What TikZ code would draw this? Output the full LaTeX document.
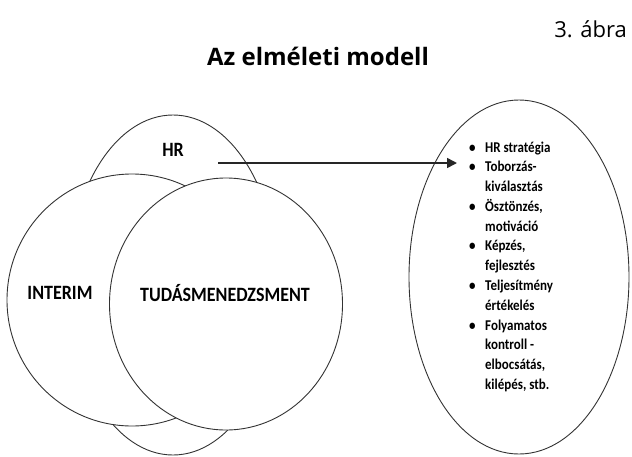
\documentclass[tikz,border=0pt]{standalone}
\usepackage{fontspec}
\setmainfont{Carlito}
\newfontfamily\titlefont{Open Sans}
\usepackage{tikz}
\usetikzlibrary{shapes.geometric,arrows.meta}
\newcommand{\tallword}[1]{\scalebox{1}[1.13]{#1}}

\begin{document}
\begin{tikzpicture}[
            x=1pt, y=-1pt,
            every node/.style={inner sep=0pt},
            venn/.style={draw=black!80, line width=0.9pt, ellipse, fill=white},
            bigword/.style={font=\fontsize{18}{18}\selectfont\bfseries},
            arrow/.style={draw=black!85, line width=1.6pt, -{Triangle[length=10pt, width=10pt]}}
        ]
        \useasboundingbox (0,0) rectangle (632,456);
        \node[anchor=base east, font=\titlefont\fontsize{22}{22}\selectfont] (fig) at (627,37) {3. ábra};
        \node[anchor=base, font=\titlefont\fontsize{24}{24}\selectfont\bfseries] (title) at (318,65) {Az elméleti modell};
        % the three overlapping fields
        \node[venn, minimum width=210pt, minimum height=340pt] (HR) at (173,285) {};
        \node[venn, minimum width=250pt, minimum height=252pt] (IN) at (132,300) {};
        \node[venn, minimum width=233pt, minimum height=252pt] (TM) at (226,304) {};
        \node[bigword] (hrtext) at (173,150) {\tallword{HR}};
        \node[bigword] (intext) at (60,293) {\tallword{INTERIM}};
        \node[bigword] (tmtext) at (225,293) {\tallword{TUDÁSMENEDZSMENT}};
        % the tasks of HR
        \node[venn, minimum width=220pt, minimum height=354pt] (tasks) at (519,277) {};
        \node[anchor=north west, align=left, font=\fontsize{13}{17.2}\selectfont\bfseries] (list) at (469,138) {%
            \scalebox{1}[1.15]{\begin{tabular}{@{}p{16pt}@{}l@{}}
                \textbullet & HR stratégia \\
                \textbullet & Toborzás- \\
                            & kiválasztás \\
                \textbullet & Ösztönzés, \\
                            & motiváció \\
                \textbullet & Képzés, \\
                            & fejlesztés \\
                \textbullet & Teljesítmény \\
                            & értékelés \\
                \textbullet & Folyamatos \\
                            & kontroll - \\
                            & elbocsátás, \\
                            & kilépés, stb.
            \end{tabular}}};
        \coordinate (hrout) at (218,163);
        \coordinate (listin) at (457,163);
        \draw[arrow] (hrout) -- (listin);
    \end{tikzpicture}
\end{document}
